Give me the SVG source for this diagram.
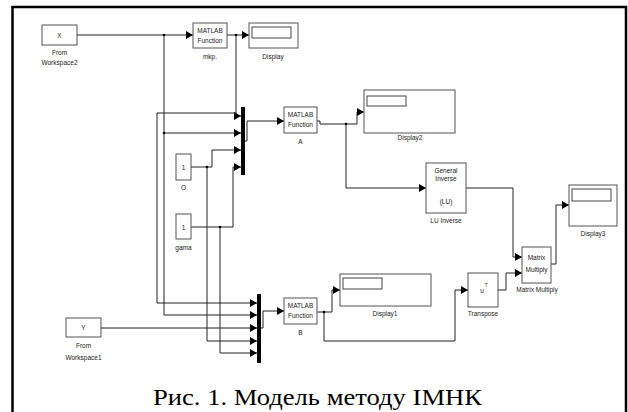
<svg xmlns="http://www.w3.org/2000/svg" width="628" height="412" viewBox="0 0 628 412">
<defs>
<marker id="arr" markerUnits="userSpaceOnUse" markerWidth="7" markerHeight="8" refX="7" refY="4" orient="auto">
<path d="M0,0 L7,4 L0,8 z" fill="#000"/>
</marker>
<style>
.blk{fill:#fff;stroke:#555;stroke-width:1}
.in{fill:#fff;stroke:#444;stroke-width:1}
.t{font-family:"Liberation Sans",Arial,sans-serif;font-size:6.5px;fill:#222;text-anchor:middle}
.w{fill:none;stroke:#222;stroke-width:1}
.a{marker-end:url(#arr)}
.bar{fill:#000}
.dot{fill:#000}
</style>
</defs>
<rect width="628" height="412" fill="#fff"/>
<path d="M12.5,412 V7 H626 V412" fill="none" stroke="#000" stroke-width="2.5"/>

<g id="connectors">
<path class="w a" d="M77,35 H193"/>
<path class="w a" d="M227,35 H249"/>
<path class="w a" d="M236,35 V116 H241"/>
<path class="w a" d="M236,113 H157 V303 H257"/>
<path class="w a" d="M164,35 V315 H257"/>
<path class="w a" d="M164,133 H241"/>
<path class="w a" d="M191,167 H212 V150 H241"/>
<path class="w a" d="M207,167 V341 H257"/>
<path class="w a" d="M191,227 H233 V167 H241"/>
<path class="w a" d="M220,227 V353 H257"/>
<path class="w a" d="M101,328 H257"/>
<path class="w a" d="M245,141 H247 V121 H284"/>
<path class="w a" d="M317,121 H320 V124 H357 V112 H364"/>
<path class="w a" d="M346,124 V188 H426"/>
<path class="w a" d="M466,188 H513 V257 H522"/>
<path class="w a" d="M261,328 H263 V311 H284"/>
<path class="w a" d="M317,312 H332 V290 H340"/>
<path class="w a" d="M324,312 V341 H455 V290 H468"/>
<path class="w a" d="M498,290 H506 V273 H522"/>
<path class="w a" d="M551,264 H556 V205 H569"/>
<circle class="dot" cx="164" cy="35" r="1.3"/>
<circle class="dot" cx="236" cy="35" r="1.3"/>
<circle class="dot" cx="164" cy="133" r="1.3"/>
<circle class="dot" cx="207" cy="167" r="1.3"/>
<circle class="dot" cx="220" cy="227" r="1.3"/>
<circle class="dot" cx="346" cy="124" r="1.3"/>
<circle class="dot" cx="324" cy="312" r="1.3"/>
</g>

<g id="fromWorkspace2">
<rect class="blk" x="42" y="25" width="35" height="20"/>
<text class="t" x="59.5" y="37.5">X</text>
<text class="t" x="59.5" y="55">From</text>
<text class="t" x="59.5" y="65">Workspace2</text>
</g>

<g id="mkp">
<rect class="blk" x="193" y="23" width="34" height="25"/>
<text class="t" x="210" y="33">MATLAB</text>
<text class="t" x="210" y="43">Function</text>
<text class="t" x="210" y="59">mkp.</text>
</g>

<g id="display">
<rect class="blk" x="249" y="23" width="49" height="25"/>
<rect class="in" x="252" y="27" width="39" height="11"/>
<text class="t" x="273" y="59">Display</text>
</g>

<g id="mux1">
<rect class="bar" x="241" y="107" width="4" height="68"/>
</g>

<g id="O">
<rect class="blk" x="176" y="154" width="15" height="26"/>
<text class="t" x="183.5" y="169.5">1</text>
<text class="t" x="183.5" y="190">O</text>
</g>

<g id="gama">
<rect class="blk" x="176" y="214" width="15" height="25"/>
<text class="t" x="183.5" y="229.5">1</text>
<text class="t" x="183.5" y="250">gama</text>
</g>

<g id="A">
<rect class="blk" x="284" y="107" width="33" height="26"/>
<text class="t" x="300.5" y="117">MATLAB</text>
<text class="t" x="300.5" y="127">Function</text>
<text class="t" x="300.5" y="144">A</text>
</g>

<g id="display2">
<rect class="blk" x="364" y="90" width="91" height="43"/>
<rect class="in" x="367" y="96" width="39" height="10"/>
<text class="t" x="410" y="140">Display2</text>
</g>

<g id="luInverse">
<rect class="blk" x="426" y="163" width="40" height="50"/>
<text class="t" x="446" y="173">General</text>
<text class="t" x="446" y="181">Inverse</text>
<text class="t" x="446" y="204">(LU)</text>
<text class="t" x="446" y="223">LU Inverse</text>
</g>

<g id="matrixMultiply">
<rect class="blk" x="522" y="247" width="29" height="36"/>
<text class="t" x="536.5" y="260">Matrix</text>
<text class="t" x="536.5" y="272">Multiply</text>
<text class="t" x="537" y="292">Matrix Multiply</text>
</g>

<g id="display3">
<rect class="blk" x="569" y="185" width="48" height="41"/>
<rect class="in" x="572" y="189" width="39" height="12"/>
<text class="t" x="593" y="236">Display3</text>
</g>

<g id="mux2">
<rect class="bar" x="257" y="294" width="4" height="69"/>
</g>

<g id="fromWorkspace1">
<rect class="blk" x="66" y="318" width="35" height="19"/>
<text class="t" x="83.5" y="330">Y</text>
<text class="t" x="83.5" y="348">From</text>
<text class="t" x="83.5" y="360">Workspace1</text>
</g>

<g id="B">
<rect class="blk" x="284" y="298" width="33" height="26"/>
<text class="t" x="300.5" y="308">MATLAB</text>
<text class="t" x="300.5" y="318">Function</text>
<text class="t" x="300.5" y="335">B</text>
</g>

<g id="display1">
<rect class="blk" x="340" y="274" width="91" height="32"/>
<rect class="in" x="343" y="278" width="39" height="11"/>
<text class="t" x="385" y="316">Display1</text>
</g>

<g id="transpose">
<rect class="blk" x="468" y="273" width="30" height="34"/>
<text class="t" x="482" y="293">u</text>
<text class="t" x="486" y="287" style="font-size:4.5px">T</text>
<text class="t" x="483" y="316">Transpose</text>
</g>

<text x="153" y="405" textLength="329" lengthAdjust="spacingAndGlyphs" font-family="'Liberation Serif','Times New Roman',serif" font-size="23" fill="#000">Рис. 1. Модель методу ІМНК</text>
</svg>
